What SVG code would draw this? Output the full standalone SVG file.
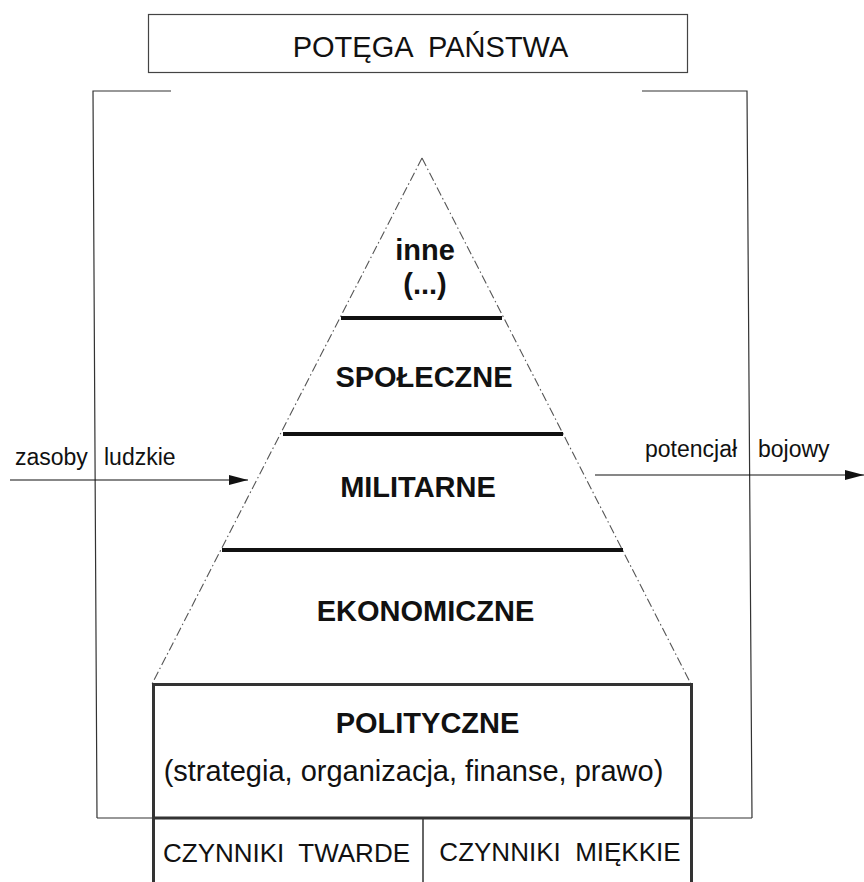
<svg xmlns="http://www.w3.org/2000/svg" width="864" height="882" viewBox="0 0 864 882">
<style>
text{font-family:"Liberation Sans",Arial,sans-serif;fill:#111;white-space:pre}
.b{font-weight:bold;text-anchor:middle;font-size:29px}
.s{font-size:23px}
.thin{fill:none;stroke:#333;stroke-width:1.2}
.dash{fill:none;stroke:#555;stroke-width:1.1;stroke-dasharray:9 3 1.5 3}
.level{stroke:#111;stroke-width:4}
.box{fill:none;stroke:#333;stroke-width:3}
.arrow{stroke:#111;stroke-width:1.2;fill:none}
</style>
<defs>
<marker id="ah" markerWidth="20" markerHeight="12" refX="19" refY="6" orient="auto" markerUnits="userSpaceOnUse">
<path d="M0,1 L19,6 L0,11 Z" fill="#111"/>
</marker>
</defs>
<rect width="864" height="882" fill="#fff"/>
<g id="title">
<rect x="148.5" y="14.5" width="539" height="58" fill="#fff" stroke="#444" stroke-width="1.2"/>
<text x="430.5" y="57" text-anchor="middle" font-size="29">POTĘGA  PAŃSTWA</text>
</g>
<g id="frame">
<polyline class="thin" points="171,91 93,91 97,818"/>
<polyline class="thin" points="642,91 747,91 752,818"/>
<line class="thin" x1="97" y1="818" x2="752" y2="818"/>
</g>
<g id="pyramid">
<line class="dash" x1="422" y1="158" x2="152" y2="684"/>
<line class="dash" x1="422" y1="158" x2="691" y2="684"/>
<line class="level" x1="341" y1="318" x2="502" y2="318"/>
<line class="level" x1="283" y1="434" x2="563" y2="434"/>
<line class="level" x1="222" y1="550" x2="623" y2="550"/>
</g>
<g id="inne"><text class="b" x="425" y="260">inne</text><text class="b" x="425" y="294">(...)</text></g>
<g id="spoleczne"><text class="b" x="424" y="387">SPOŁECZNE</text></g>
<g id="militarne"><text class="b" x="418" y="497">MILITARNE</text></g>
<g id="ekonomiczne"><text class="b" x="425.5" y="621">EKONOMICZNE</text></g>
<g id="polityczne">
<rect class="box" x="153.5" y="684.5" width="538" height="220"/>
<line class="box" x1="153.5" y1="818" x2="691.5" y2="818"/>
<line stroke="#333" stroke-width="1.5" x1="423" y1="818" x2="423" y2="882"/>
<text class="b" x="427.5" y="733">POLITYCZNE</text>
<text x="413.5" y="781" text-anchor="middle" font-size="29">(strategia, organizacja, finanse, prawo)</text>
</g>
<g id="twarde"><text x="286.5" y="862" text-anchor="middle" font-size="26">CZYNNIKI  TWARDE</text></g>
<g id="miekkie"><text x="560" y="861" text-anchor="middle" font-size="26">CZYNNIKI  MIĘKKIE</text></g>
<g id="connectors">
<line class="arrow" x1="10" y1="480" x2="248" y2="480" marker-end="url(#ah)"/>
<line class="arrow" x1="595" y1="475" x2="864" y2="475" marker-end="url(#ah)"/>
</g>
<g id="labels">
<text class="s" x="15" y="465">zasoby</text>
<text class="s" x="104" y="465">ludzkie</text>
<text class="s" x="645" y="457">potencjał</text>
<text class="s" x="758" y="457">bojowy</text>
</g>
</svg>
